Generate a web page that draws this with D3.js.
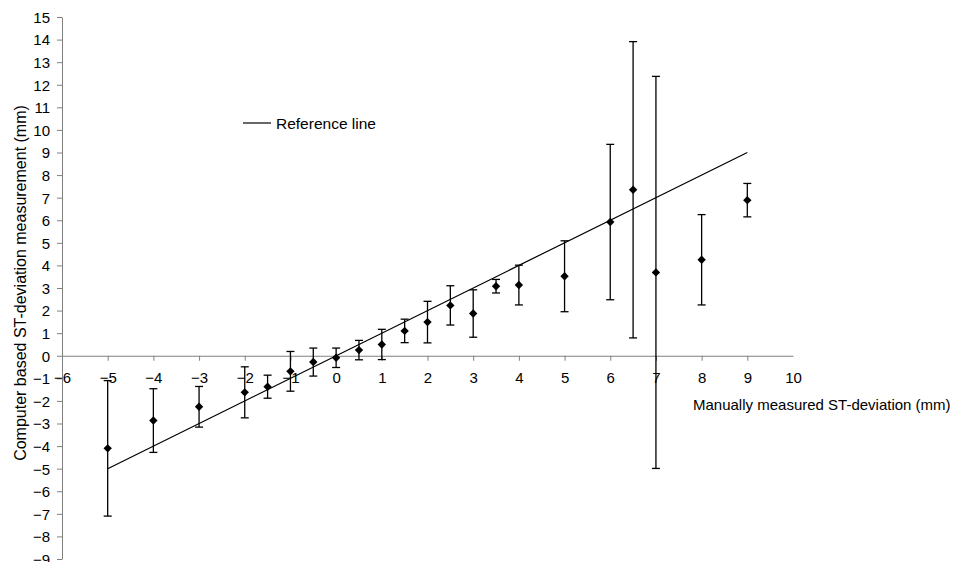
<!DOCTYPE html>
<html>
<head>
<meta charset="utf-8">
<script src="https://cdn.jsdelivr.net/npm/d3@7"></script>
<style>
    body { margin: 0; background: #fff; }
    svg text { font-family: "Liberation Sans", Arial, sans-serif; fill: #000; }
</style>
</head>
<body>
<div id="chart"></div>
<script>
'use strict';

// manual measurement (x), mean computer measurement and error half-width
const manual = [-5, -4, -3, -2, -1.5, -1, -0.5, 0, 0.5, 1, 1.5, 2, 2.5, 3, 3.5, 4, 5, 6, 6.5, 7, 8, 9];
const computed = [-4.1, -2.87, -2.26, -1.62, -1.37, -0.69, -0.28, -0.09, 0.25, 0.5, 1.1, 1.49, 2.23, 1.87, 3.08, 3.13, 3.52, 5.92, 7.35, 3.69, 4.25, 6.89];
const errors = [3.0, 1.41, 0.9, 1.13, 0.51, 0.88, 0.62, 0.43, 0.43, 0.67, 0.52, 0.92, 0.87, 1.05, 0.3, 0.88, 1.57, 3.44, 6.56, 8.68, 2.0, 0.74];

const refLine = [-5, 9];
const xTicks = d3.range(-6, 11);
const yTicks = d3.range(-9, 16);

const xTitle = 'Manually measured ST-deviation (mm)';
const yTitle = 'Computer based ST-deviation measurement (mm)';
const legendLabel = 'Reference line';

const dim = {
    width: 957,
    height: 562,
    left: 62,
    right: 793,
    top: 17,
    bottom: 559
};

const svg = d3.select('#chart')
    .append('svg')
    .attr('width', dim.width)
    .attr('height', dim.height);

const xScale = d3.scaleLinear().domain([-6, 10]).range([dim.left, dim.right]);
const yScale = d3.scaleLinear().domain([-9, 15]).range([dim.bottom, dim.top]);

// y axis
const yAxis = svg.append('g')
    .attr('transform', `translate(${dim.left},0)`)
    .call(d3.axisLeft(yScale).tickValues(yTicks).tickSize(5).tickSizeOuter(0).tickPadding(7));

// x axis on y = 0
const xAxis = svg.append('g')
    .attr('transform', `translate(0,${yScale(0)})`)
    .call(d3.axisBottom(xScale).tickValues(xTicks).tickSize(5).tickSizeOuter(0).tickPadding(12));

[xAxis, yAxis].forEach(function(ax) {
    ax.select('.domain').attr('stroke', '#808080');
    ax.selectAll('.tick line').attr('stroke', '#808080');
    ax.selectAll('.tick text').style('font-size', '15px').attr('fill', '#000');
});
xAxis.selectAll('.tick').filter((d) => d === -6 || d === 10).select('line').remove();
yAxis.selectAll('.tick text').attr('dy', '0.36em');

// reference line y = x
svg.append('line')
    .attr('x1', xScale(refLine[0]))
    .attr('y1', yScale(refLine[0]))
    .attr('x2', xScale(refLine[1]))
    .attr('y2', yScale(refLine[1]))
    .attr('stroke', '#000')
    .attr('stroke-width', 1.2);

// error bars
const points = manual.map((m, i) => ({ x: m, y: computed[i], e: errors[i] }));

const bars = svg.selectAll('.err')
    .data(points)
    .enter()
    .append('g')
    .attr('class', 'err')
    .attr('stroke', '#000')
    .attr('stroke-width', 1.3);

bars.append('line')
    .attr('x1', (d) => xScale(d.x))
    .attr('x2', (d) => xScale(d.x))
    .attr('y1', (d) => yScale(d.y + d.e))
    .attr('y2', (d) => yScale(d.y - d.e));

bars.append('line')
    .attr('x1', (d) => xScale(d.x) - 4)
    .attr('x2', (d) => xScale(d.x) + 4)
    .attr('y1', (d) => yScale(d.y + d.e))
    .attr('y2', (d) => yScale(d.y + d.e));

bars.append('line')
    .attr('x1', (d) => xScale(d.x) - 4)
    .attr('x2', (d) => xScale(d.x) + 4)
    .attr('y1', (d) => yScale(d.y - d.e))
    .attr('y2', (d) => yScale(d.y - d.e));

// diamond markers
svg.selectAll('.pt')
    .data(points)
    .enter()
    .append('path')
    .attr('class', 'pt')
    .attr('d', d3.symbol().type(d3.symbolDiamond2).size(45))
    .attr('transform', (d) => `translate(${xScale(d.x)},${yScale(d.y)})`)
    .attr('fill', '#000');

// legend
svg.append('line')
    .attr('x1', 243).attr('x2', 271)
    .attr('y1', 123).attr('y2', 123)
    .attr('stroke', '#000')
    .attr('stroke-width', 1.2);

svg.append('text')
    .attr('x', 276)
    .attr('y', 123)
    .attr('dy', '0.36em')
    .style('font-size', '15.5px')
    .text(legendLabel);

// axis titles
svg.append('text')
    .attr('x', 693)
    .attr('y', 405)
    .attr('dy', '0.36em')
    .style('font-size', '15px')
    .text(xTitle);

svg.append('text')
    .attr('transform', 'translate(20,283) rotate(-90)')
    .attr('text-anchor', 'middle')
    .attr('dy', '0.36em')
    .style('font-size', '16px')
    .text(yTitle);
</script>
</body>
</html>
